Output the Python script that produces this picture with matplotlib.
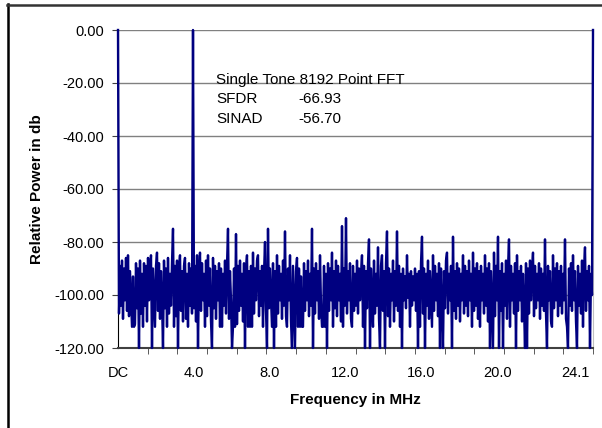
import numpy as np
import matplotlib.pyplot as plt
from matplotlib.lines import Line2D

plt.rcParams.update({
    "font.family": ["Liberation Sans", "DejaVu Sans"],
    "font.size": 10.5,
})

# Spectrum magnitude (dB) per FFT bin, DC to Nyquist
power_db = [
    0, -107, -89, -104, -87, -109, -90, -102, -86, -106, -85, -108, -91, -102, -112, -93, -112, -111, -88, -105,
    -90, -120, -87, -107, -92, -112, -88, -104, -89, -110, -86, -102, -91, -85, -120, -90, -101, -112, -89, -84,
    -106, -88, -109, -91, -102, -120, -87, -105, -90, -112, -86, -107, -92, -104, -88, -75, -112, -89, -108, -87,
    -120, -90, -85, -106, -91, -110, -89, -86, -109, -92, -112, -88, -104, -90, -107, 0, -105, -89, -110, -85,
    -120, -91, -84, -106, -88, -102, -92, -112, -87, -108, -85, -104, -90, -110, -120, -86, -105, -89, -109, -91,
    -102, -88, -112, -90, -112, -92, -104, -87, -107, -89, -75, -109, -91, -102, -120, -112, -90, -112, -77, -111,
    -89, -106, -87, -104, -92, -110, -88, -120, -90, -85, -112, -91, -112, -89, -112, -84, -107, -90, -102, -87,
    -85, -108, -91, -104, -89, -112, -92, -80, -106, -120, -75, -105, -90, -101, -112, -88, -120, -91, -112, -85,
    -107, -89, -102, -92, -109, -87, -104, -76, -108, -112, -90, -102, -85, -110, -120, -89, -105, -120, -91, -86,
    -112, -90, -112, -93, -112, -112, -88, -106, -91, -102, -87, -108, -92, -104, -75, -120, -90, -107, -88, -102,
    -91, -109, -85, -104, -112, -112, -89, -112, -92, -120, -88, -106, -90, -102, -84, -112, -91, -105, -87, -108,
    -89, -102, -92, -110, -74, -112, -90, -104, -71, -107, -91, -102, -88, -109, -112, -89, -106, -92, -104, -87,
    -107, -90, -102, -92, -85, -112, -89, -120, -91, -105, -88, -79, -120, -90, -102, -112, -87, -107, -92, -104,
    -82, -109, -120, -89, -85, -106, -91, -120, -88, -76, -108, -90, -112, -92, -102, -87, -110, -91, -104, -76,
    -106, -89, -112, -92, -120, -90, -102, -93, -105, -85, -101, -92, -112, -91, -104, -93, -102, -90, -106, -92,
    -120, -91, -112, -88, -78, -107, -90, -120, -92, -104, -87, -109, -91, -102, -112, -85, -106, -89, -102, -92,
    -108, -88, -120, -90, -104, -120, -91, -105, -87, -84, -107, -92, -102, -89, -120, -78, -106, -91, -109, -88,
    -104, -90, -110, -92, -102, -85, -107, -89, -104, -91, -108, -87, -102, -92, -112, -84, -106, -90, -104, -88,
    -109, -91, -112, -89, -102, -92, -107, -85, -104, -90, -110, -88, -120, -91, -105, -120, -84, -108, -89, -102,
    -78, -120, -91, -106, -88, -120, -92, -104, -87, -109, -90, -79, -112, -89, -102, -92, -107, -88, -120, -85,
    -106, -91, -102, -89, -110, -92, -104, -120, -88, -120, -90, -107, -87, -102, -91, -84, -108, -89, -105, -92,
    -102, -88, -109, -90, -104, -92, -106, -79, -107, -120, -89, -102, -91, -110, -112, -85, -105, -90, -102, -88,
    -108, -91, -104, -89, -107, -92, -102, -79, -109, -112, -120, -90, -104, -88, -106, -85, -102, -91, -110, -120,
    -89, -104, -92, -107, -87, -112, -90, -82, -106, -91, -102, -89, -120, -92, -100, 0,
]
nyquist_mhz = 25.05
freq_mhz = np.linspace(0, nyquist_mhz, len(power_db))

tick_vals = [0, 4, 8, 12, 16, 20, 24.1]
tick_labels = ["DC", "4.0", "8.0", "12.0", "16.0", "20.0", "24.1"]

info_rows = [("Single Tone 8192 Point FFT", ""), ("SFDR", "-66.93"), ("SINAD", "-56.70")]
info_y = [-18.9, -26.0, -33.6]

fig = plt.figure(figsize=(6.02, 4.28), dpi=100)
ax = fig.add_axes([118 / 602, 1 - 348 / 428, 475 / 602, 318 / 428])

# outer chart frame (only left and top edges visible in the picture)
fig.add_artist(Line2D([7.5 / 602, 7.5 / 602], [0, 1 - 4 / 428], color="black", lw=1.8))
fig.add_artist(Line2D([7 / 602, 1], [1 - 4.5 / 428, 1 - 4.5 / 428], color="#333333", lw=1.8))

for yv in range(-100, 1, 20):
    ax.axhline(yv, color="#808080", lw=1.0, zorder=1)

ax.plot(freq_mhz, power_db, color="#000080", lw=1.7, zorder=3, clip_on=False)

ax.set_xlim(0, nyquist_mhz)
ax.set_ylim(-120, 0)
ax.set_yticks(range(-120, 1, 20))
ax.set_yticklabels([f"{v:.2f}" for v in range(-120, 1, 20)])
ax.set_xticks(tick_vals)
ax.set_xticklabels(tick_labels)
ax.set_xticks(np.linspace(0, nyquist_mhz, 17), minor=True)
ax.tick_params(axis="x", which="major", length=0, pad=13)
ax.tick_params(axis="x", which="minor", length=4, color="#404040", direction="out")
ax.tick_params(axis="y", length=4, color="#404040", pad=6)

ax.spines["top"].set_visible(False)
ax.spines["right"].set_color("#c0c0c0")
ax.spines["left"].set_color("black")
ax.spines["bottom"].set_color("#404040")
ax.spines["bottom"].set_linewidth(1.5)

ax.set_xlabel("Frequency in MHz", fontweight="bold", fontsize=11, labelpad=9)
ax.set_ylabel("Relative Power in db", fontweight="bold", fontsize=11, labelpad=7)

for (name, val), y in zip(info_rows, info_y):
    ax.text(5.17, y, name, ha="left", va="center", fontsize=11, zorder=4)
    if val:
        ax.text(9.5, y, val, ha="left", va="center", fontsize=11, zorder=4)

fig.savefig("out.png", dpi=100)
